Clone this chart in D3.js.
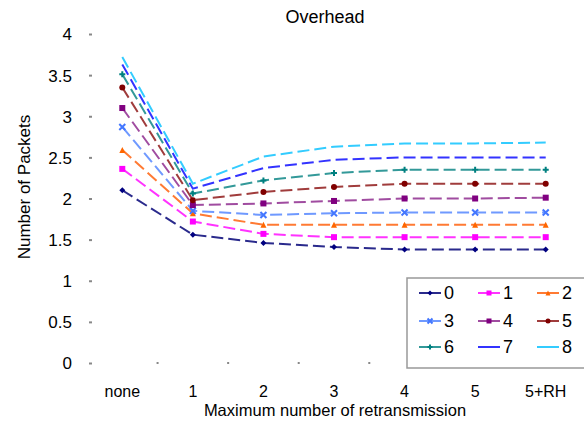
<!DOCTYPE html>
<html>
<meta charset="utf-8">
<head>
<script src="https://d3js.org/d3.v7.min.js"></script>
<style>
  body { margin: 0; background: #fff; }
  text { font-family: "Liberation Sans", Arial, sans-serif; fill: #000; }
</style>
</head>
<body>
<div id="chart"></div>
<script>
// categories on the x axis
var categories = ["none", "1", "2", "3", "4", "5", "5+RH"];
var yTicks = [0, 0.5, 1, 1.5, 2, 2.5, 3, 3.5, 4];

// one array per series (legend 0..8)
var s0 = [2.10, 1.56, 1.46, 1.41, 1.38, 1.38, 1.38];
var s1 = [2.36, 1.72, 1.57, 1.53, 1.53, 1.53, 1.53];
var s2 = [2.59, 1.82, 1.68, 1.68, 1.68, 1.68, 1.68];
var s3 = [2.87, 1.85, 1.80, 1.82, 1.83, 1.83, 1.83];
var s4 = [3.10, 1.92, 1.94, 1.97, 2.00, 2.00, 2.01];
var s5 = [3.35, 1.98, 2.08, 2.14, 2.18, 2.18, 2.18];
var s6 = [3.51, 2.06, 2.22, 2.31, 2.35, 2.35, 2.35];
var s7 = [3.63, 2.12, 2.37, 2.47, 2.50, 2.50, 2.50];
var s8 = [3.72, 2.18, 2.51, 2.63, 2.67, 2.67, 2.68];
var seriesNames = ["0", "1", "2", "3", "4", "5", "6", "7", "8"];

var allSeries = [s0, s1, s2, s3, s4, s5, s6, s7, s8];
var lineColors = ["#2a2a8c", "#ff33ff", "#ff7a33", "#6f99ff", "#a04ca0", "#a03c3c", "#339999", "#3333ff", "#33ccff"];
var markColors = ["#000080", "#ff00ff", "#ff6600", "#4477ff", "#800080", "#800000", "#008080", "#0000ff", "#00ccff"];
var markShapes = ["diamond", "square", "triangle", "cross", "square", "circle", "plus", "none", "none"];

var width = 584, height = 424;
var svg = d3.select("#chart").append("svg")
    .attr("width", width)
    .attr("height", height);

var x = d3.scaleBand().domain(categories).range([87, 581]);
var y = d3.scaleLinear().domain([0, 4]).range([363, 34]);

// y axis: small grey ticks, no line
var yAxis = svg.append("g")
    .attr("transform", "translate(90,0)")
    .call(d3.axisLeft(y).tickValues(yTicks).tickSize(3).tickPadding(15)
        .tickFormat(function(d) { return d3.format("")(d); }));
yAxis.select(".domain").remove();
yAxis.selectAll(".tick line").attr("stroke", "#888").attr("stroke-width", 2).attr("x1", -1).attr("x2", 2);
yAxis.selectAll("text").style("font-size", "17px").attr("dy", "0.35em");

// x axis: ticks between categories
var xAxis = svg.append("g")
    .attr("transform", "translate(0,363)")
    .call(d3.axisBottom(x).tickSize(0).tickPadding(23));
xAxis.select(".domain").remove();
xAxis.selectAll("text").style("font-size", "16px");
svg.append("g").selectAll("rect")
    .data(categories.slice(1))
    .enter().append("rect")
    .attr("x", function(d) { return x(d) - 1; })
    .attr("y", 362)
    .attr("width", 2)
    .attr("height", 2)
    .attr("fill", "#888");

// title and axis titles
svg.append("text").attr("x", 325).attr("y", 23).attr("text-anchor", "middle")
    .style("font-size", "18px").text("Overhead");
svg.append("text").attr("transform", "translate(24,187) rotate(-90)").attr("text-anchor", "middle")
    .attr("dy", "0.35em").style("font-size", "17px").text("Number of Packets");
svg.append("text").attr("x", 335).attr("y", 416).attr("text-anchor", "middle")
    .style("font-size", "16.5px").text("Maximum number of retransmission");

function drawMarker(g, shape, color, cx, cy, s) {
  if (shape == "square") {
    g.append("rect").attr("x", cx - s).attr("y", cy - s).attr("width", 2 * s).attr("height", 2 * s).attr("fill", color);
  } else if (shape == "circle") {
    g.append("circle").attr("cx", cx).attr("cy", cy).attr("r", s).attr("fill", color);
  } else if (shape == "diamond") {
    g.append("path").attr("d", "M" + cx + "," + (cy - s) + "L" + (cx + s) + "," + cy + "L" + cx + "," + (cy + s) + "L" + (cx - s) + "," + cy + "Z").attr("fill", color);
  } else if (shape == "triangle") {
    g.append("path").attr("d", "M" + cx + "," + (cy - s) + "L" + (cx + s) + "," + (cy + s) + "L" + (cx - s) + "," + (cy + s) + "Z").attr("fill", color);
  } else if (shape == "cross") {
    g.append("path").attr("d", "M" + (cx - s) + "," + (cy - s) + "L" + (cx + s) + "," + (cy + s) + "M" + (cx + s) + "," + (cy - s) + "L" + (cx - s) + "," + (cy + s))
      .attr("stroke", color).attr("stroke-width", 2);
  } else if (shape == "plus") {
    g.append("path").attr("d", "M" + (cx - s) + "," + cy + "L" + (cx + s) + "," + cy + "M" + cx + "," + (cy - s) + "L" + cx + "," + (cy + s))
      .attr("stroke", color).attr("stroke-width", 2);
  }
}

var line = d3.line()
    .x(function(d, i) { return x(categories[i]) + x.bandwidth() / 2; })
    .y(function(d) { return y(d); });

allSeries.forEach(function(vals, k) {
  var g = svg.append("g");
  g.append("path")
    .attr("d", line(vals))
    .attr("fill", "none")
    .attr("stroke", lineColors[k])
    .attr("stroke-width", 2)
    .attr("stroke-dasharray", "12,5");
  vals.forEach(function(v, i) {
    drawMarker(g, markShapes[k], markColors[k], x(categories[i]) + x.bandwidth() / 2, y(v), 3);
  });
});

// legend
var legend = svg.append("g");
legend.append("rect")
    .attr("x", 407).attr("y", 278).attr("width", 180).attr("height", 90)
    .attr("fill", "#fff").attr("stroke", "#999").attr("stroke-width", 1.5);
var colX = [419, 478, 537];
var rowY = [293, 321, 347];
seriesNames.forEach(function(name, k) {
  var lx = colX[k % 3], ly = rowY[Math.floor(k / 3)];
  legend.append("line")
    .attr("x1", lx).attr("x2", lx + 22).attr("y1", ly).attr("y2", ly)
    .attr("stroke", lineColors[k]).attr("stroke-width", 2);
  drawMarker(legend, markShapes[k], markColors[k], lx + 11, ly, 2.5);
  legend.append("text").attr("x", lx + 25).attr("y", ly).attr("dy", "0.35em")
    .style("font-size", "18px").text(name);
});
</script>
</body>
</html>
